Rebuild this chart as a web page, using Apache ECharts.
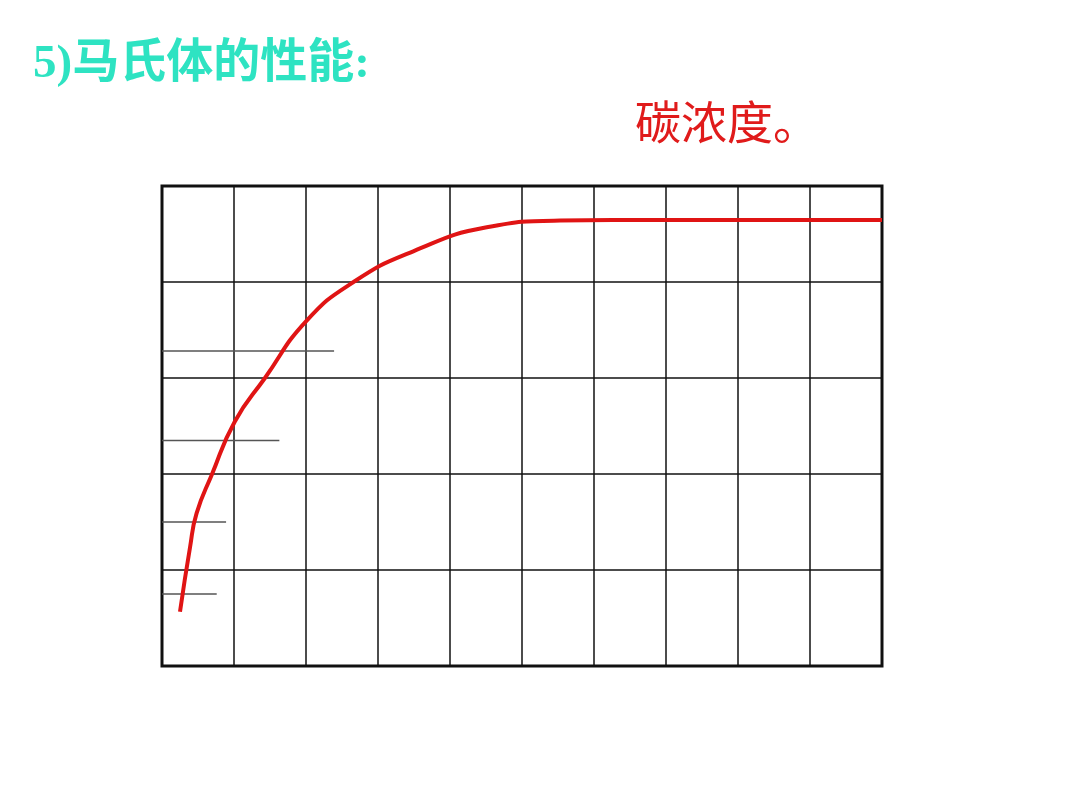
<!DOCTYPE html>
<html>
<head>
<meta charset="utf-8">
<script src="https://cdn.jsdelivr.net/npm/echarts@6/dist/echarts.min.js"></script>
<style>html,body{margin:0;padding:0;background:#fff}#c{width:1080px;height:810px}</style>
</head>
<body>
<div id="c"></div>
<script>
const titleText = "5)马氏体的性能:";
const subText = "碳浓度。";
const curveX = [0.25, 0.39, 0.48, 0.69, 1.01, 1.43, 2.0, 2.66, 3.49, 4.51, 5.53, 7.0, 10.0];
const curveY = [0.566, 1.24, 1.59, 1.99, 2.545, 3.0, 3.59, 4.0, 4.32, 4.57, 4.64, 4.646, 4.646];
const refLevels = [3.28, 2.35, 1.50, 0.75];
const refEnds = [2.39, 1.63, 0.89, 0.76];

const chart = echarts.init(document.getElementById('c'));
const series = [];
refLevels.forEach((lv, i) => {
  series.push({
    type: 'line', data: [[0, lv], [refEnds[i], lv]], symbol: 'none', silent: true,
    lineStyle: { color: '#555', width: 1.5 }, z: 2
  });
});
series.push({
  type: 'line', data: curveX.map((x, i) => [x, curveY[i]]), symbol: 'none',
  smooth: 0.5, lineStyle: { color: '#E01414', width: 4 }, z: 3
});
chart.setOption({
  animation: false,
  backgroundColor: '#fff',
  title: [
    { text: titleText, left: 28, top: 36, textStyle: { color: '#2EE3C2', fontSize: 47, fontWeight: 'bold', fontFamily: '"Liberation Serif", "Noto Sans CJK SC"' } },
    { text: subText, left: 630, top: 94, textStyle: { color: '#E01B1B', fontSize: 46, fontWeight: 'normal', fontFamily: '"Noto Sans CJK SC"' } }
  ],
  grid: { left: 162, top: 186, width: 720, height: 480, show: true, borderColor: '#111', borderWidth: 3, backgroundColor: 'transparent' },
  xAxis: { type: 'value', min: 0, max: 10, interval: 1, axisLine: { show: false }, axisTick: { show: false }, axisLabel: { show: false },
    splitLine: { show: true, lineStyle: { color: '#111', width: 1.5, type: 'solid' } } },
  yAxis: { type: 'value', min: 0, max: 5, interval: 1, axisLine: { show: false }, axisTick: { show: false }, axisLabel: { show: false },
    splitLine: { show: true, lineStyle: { color: '#111', width: 1.5, type: 'solid' } } },
  series: series
});
</script>
</body>
</html>
